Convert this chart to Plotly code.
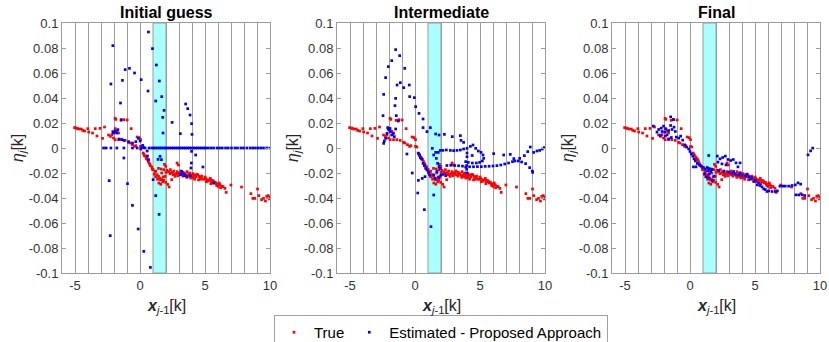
import plotly.graph_objects as go

# ---------------- data ----------------
true_pts = [
    (-5.03, 0.0163), (-4.93, 0.0160), (-4.82, 0.0157), (-4.72, 0.0152), (-4.52, 0.0152), (-4.41, 0.0141),
    (-4.26, 0.0136), (-4.01, 0.0155), (-3.95, 0.0128), (-3.65, 0.0120), (-3.31, 0.0096), (-3.44, 0.0155),
    (-3.08, 0.0157), (-2.73, 0.0168), (-2.88, 0.0077), (-2.42, 0.0104), (-2.27, 0.0093), (-2.16, 0.0107),
    (-2.04, 0.0080), (-1.91, 0.0155), (-1.86, 0.0229), (-1.92, 0.0237), (-1.78, 0.0133), (-1.65, 0.0120),
    (-1.45, 0.0221), (-1.24, 0.0227), (-0.99, 0.0224), (-0.68, 0.0155), (-1.91, 0.0067), (-1.65, 0.0067),
    (-1.40, 0.0067), (-1.14, 0.0061), (-0.88, 0.0045), (-0.78, 0.0040), (-0.58, 0.0027), (-0.42, 0.0013),
    (-0.32, 0.0019), (-0.22, 0.0088), (-0.07, 0.0083), (0.04, 0.0067), (0.04, 0.0013), (0.14, 0.0008),
    (0.24, -0.0040), (0.34, -0.0061), (0.45, -0.0072), (0.55, -0.0088), (0.65, -0.0109), (0.70, -0.0120),
    (0.80, -0.0141), (0.91, -0.0152), (1.01, -0.0173), (1.16, -0.0189), (1.31, -0.0213), (1.42, -0.0227),
    (1.52, -0.0240), (1.67, -0.0253), (1.83, -0.0259), (1.98, -0.0275), (2.13, -0.0291), (2.24, -0.0312),
    (1.42, -0.0163), (1.62, -0.0168), (1.83, -0.0173), (2.08, -0.0179), (2.34, -0.0173), (2.59, -0.0184),
    (2.85, -0.0189), (2.95, -0.0200), (3.16, -0.0184), (3.31, -0.0195), (3.46, -0.0205), (3.62, -0.0189),
    (3.77, -0.0205), (3.92, -0.0221), (4.08, -0.0205), (4.23, -0.0216), (4.38, -0.0211), (4.54, -0.0227),
    (4.69, -0.0232), (4.84, -0.0248), (5.00, -0.0232), (5.15, -0.0253), (5.25, -0.0264), (5.41, -0.0243),
    (5.56, -0.0259), (5.71, -0.0280), (5.87, -0.0285), (6.02, -0.0307), (6.17, -0.0296), (6.33, -0.0307),
    (6.53, -0.0323), (6.63, -0.0355), (6.99, -0.0296), (7.81, -0.0312), (8.53, -0.0365), (8.68, -0.0403),
    (8.83, -0.0403), (9.04, -0.0328), (9.14, -0.0381), (9.35, -0.0413), (9.50, -0.0403), (9.65, -0.0424),
    (9.75, -0.0387), (9.86, -0.0381), (9.96, -0.0408), (10.0, -0.0392), (2.85, -0.0120), (2.95, -0.0136),
    (1.88, -0.0131), (1.98, -0.0147), (1.67, -0.0200), (1.57, -0.0253), (1.78, -0.0232), (1.93, -0.0227),
    (2.70, -0.0227), (2.44, -0.0253), (2.20, -0.0190), (2.40, -0.0200), (2.50, -0.0195), (2.65, -0.0210),
    (2.80, -0.0205), (3.05, -0.0210), (3.20, -0.0215), (3.40, -0.0210), (3.55, -0.0220), (3.70, -0.0215),
    (3.85, -0.0200), (4.00, -0.0225), (4.15, -0.0220), (4.30, -0.0230), (4.45, -0.0215), (4.60, -0.0240),
    (4.75, -0.0225), (4.90, -0.0250), (5.05, -0.0245), (5.20, -0.0260), (5.35, -0.0255), (5.50, -0.0270),
    (5.65, -0.0265), (5.80, -0.0275), (5.95, -0.0290), (6.10, -0.0280), (6.40, -0.0310), (3.10, -0.0195),
    (3.30, -0.0225), (3.60, -0.0235), (3.90, -0.0240), (4.20, -0.0250), (4.50, -0.0255), (1.10, -0.0210),
    (1.20, -0.0230), (1.35, -0.0250), (1.45, -0.0280), (1.60, -0.0290), (1.75, -0.0270), (1.20, -0.0185),
    (0.95, -0.0170), (0.60, -0.0095), (0.30, -0.0050), (0.50, -0.0085), (0.75, -0.0130),
    (2.55, -0.0215), (2.90, -0.0222), (3.35, -0.0200), (3.75, -0.0228), (4.10, -0.0238), (4.65, -0.0250),
    (5.10, -0.0270), (5.45, -0.0285), (5.90, -0.0300), (6.20, -0.0318), (2.30, -0.0205), (2.00, -0.0195),
]

init_pts = [
    (0.65, 0.0928), (0.96, 0.0795), (-2.09, 0.0819), (-1.14, 0.0627), (-0.81, 0.0637), (-0.42, 0.0600),
    (-1.35, 0.0541), (0.09, 0.0547), (-2.24, 0.0512), (1.26, 0.0664), (1.49, 0.0536), (0.62, 0.0456),
    (1.67, 0.0411), (1.21, 0.0376), (1.85, 0.0301), (-1.50, 0.0360), (3.51, 0.0352), (3.67, 0.0315),
    (3.85, 0.0264), (3.97, 0.0195), (1.75, 0.0245), (-1.45, 0.0227), (2.47, 0.0205), (1.77, 0.0120),
    (3.10, 0.0115), (4.00, 0.0109), (-1.70, 0.0147), (-1.96, 0.0125), (-2.04, 0.0120), (-2.09, 0.0131),
    (-1.91, 0.0136), (-1.78, 0.0120), (-1.60, 0.0072), (-1.40, 0.0067), (-1.24, 0.0061), (-0.88, 0.0051),
    (-0.58, 0.0040), (-0.32, 0.0051), (-0.12, 0.0077), (0.01, 0.0056), (0.21, 0.0021), (0.29, 0.0003),
    (0.06, -0.0008), (0.55, -0.0024), (0.57, -0.0064), (0.65, -0.0093), (1.54, -0.0067), (1.65, -0.0093),
    (1.39, -0.0091), (-1.24, -0.0080), (-2.37, -0.0261), (-0.96, -0.0285), (1.01, -0.0253), (1.21, -0.0381),
    (1.47, -0.0531), (-0.58, -0.0459), (-0.14, -0.0648), (-2.29, -0.0701), (0.29, -0.0827), (0.80, -0.0955),
    (4.84, -0.0152), (4.28, -0.0056), (3.97, -0.0027), (3.95, -0.0120), (3.92, -0.0160), (3.21, -0.0187),
    (3.26, -0.0205), (3.41, -0.0221), (3.59, -0.0227), (3.87, -0.0221), (3.46, -0.0213), (3.10, -0.0213),
    (5.66, -0.0280),
    (-2.80, 0.0), (-2.60, 0.0), (-2.24, 0.0), (-1.78, 0.0), (-1.24, 0.0), (-0.58, 0.0), (-0.22, 0.0),
    (0.09, 0.0), (0.39, 0.0), (0.70, 0.0), (0.91, 0.0), (1.06, 0.0), (1.21, 0.0), (1.37, 0.0), (1.52, 0.0),
    (1.67, 0.0), (1.83, 0.0), (1.98, 0.0), (2.13, 0.0), (2.29, 0.0), (2.44, 0.0), (2.59, 0.0), (2.75, 0.0),
    (2.90, 0.0), (3.05, 0.0), (3.21, 0.0), (3.36, 0.0), (3.51, 0.0), (3.67, 0.0), (3.82, 0.0), (3.97, 0.0),
    (4.13, 0.0), (4.28, 0.0), (4.43, 0.0), (4.59, 0.0), (4.74, 0.0), (4.90, 0.0), (5.05, 0.0), (5.25, 0.0),
    (5.46, 0.0), (5.66, 0.0), (5.92, 0.0), (6.12, 0.0), (6.33, 0.0), (6.58, 0.0), (6.79, 0.0), (7.04, 0.0),
    (7.30, 0.0), (7.50, 0.0), (7.76, 0.0), (7.96, 0.0), (8.22, 0.0), (8.48, 0.0), (8.68, 0.0), (8.88, 0.0),
    (9.09, 0.0), (9.29, 0.0), (9.50, 0.0), (9.75, 0.0), (10.0, 0.0),
]

mid_pts = [
    (-1.49, 0.0787), (-1.18, 0.0739), (-1.79, 0.0699), (-2.05, 0.0651), (-0.79, 0.0637), (-2.26, 0.0563),
    (-1.13, 0.0523), (-1.38, 0.0504), (-0.87, 0.0483), (-2.41, 0.0429), (-0.44, 0.0504), (-1.49, 0.0397),
    (-0.41, 0.0411), (-0.05, 0.0403), (-1.54, 0.0339), (0.05, 0.0331), (-2.46, 0.0259), (-1.44, 0.0259),
    (0.31, 0.0277), (0.62, 0.0232), (-1.28, 0.0216), (-2.10, 0.0163), (-2.05, 0.0152), (-2.00, 0.0144),
    (-1.95, 0.0157), (-1.90, 0.0131), (-2.15, 0.0117), (-1.79, 0.0104), (-1.69, 0.0115), (-1.59, 0.0091),
    (-2.36, 0.0056), (-2.41, 0.0037), (-2.26, 0.0077), (-1.49, 0.0152), (0.62, 0.0163), (0.92, 0.0131),
    (1.18, 0.0163), (1.59, 0.0112), (1.85, 0.0104), (2.26, 0.0109), (2.87, 0.0091), (3.49, 0.0099),
    (3.54, 0.0061), (3.74, 0.0045), (-0.62, -0.0048), (0.26, -0.0043), (0.36, -0.0056), (0.41, -0.0077),
    (0.51, -0.0088), (0.62, -0.0123), (0.72, -0.0141), (0.82, -0.0163), (0.92, -0.0176), (1.03, -0.0195),
    (1.13, -0.0216), (-0.21, -0.0200), (0.26, -0.0259), (0.56, -0.0243), (0.77, -0.0229), (1.33, -0.0003),
    (1.44, -0.0056), (1.59, -0.0035), (1.64, -0.0083), (1.74, -0.0123), (1.85, -0.0149), (1.69, -0.0189),
    (1.95, -0.0163), (1.44, -0.0216), (1.56, -0.0243), (1.85, -0.0237), (2.00, -0.0216), (2.15, -0.0211),
    (2.36, -0.0221), (0.21, -0.0360), (0.72, -0.0493), (1.44, -0.0376), (1.23, -0.0629),
    (1.79, -0.0035), (1.95, -0.0019), (2.15, -0.0019), (2.41, -0.0016), (2.72, -0.0019), (2.97, -0.0021),
    (3.23, -0.0019), (3.49, -0.0016), (3.74, -0.0008), (4.00, -0.0003), (4.26, 0.0013), (4.46, 0.0024),
    (4.67, -0.0003), (4.87, -0.0024), (5.08, -0.0035), (5.23, -0.0056), (5.28, -0.0083), (5.18, -0.0104),
    (4.97, -0.0115), (4.72, -0.0120), (4.41, -0.0120), (4.10, -0.0115), (3.90, -0.0109),
    (4.00, -0.0040), (4.00, -0.0070), (3.98, -0.0140), (3.97, -0.0170), (4.00, -0.0200),
    (2.45, -0.0140), (2.75, -0.0138), (3.05, -0.0140), (3.35, -0.0142), (3.65, -0.0145),
    (3.90, -0.0152), (4.20, -0.0150), (4.50, -0.0150), (4.80, -0.0149), (5.10, -0.0149), (5.40, -0.0147),
    (5.70, -0.0146), (6.00, -0.0144), (6.30, -0.0141), (6.60, -0.0136), (6.90, -0.0128), (7.20, -0.0120),
    (7.50, -0.0109), (7.69, -0.0104), (8.05, -0.0083), (8.41, -0.0061), (8.67, -0.0029), (8.87, 0.0008),
    (7.60, -0.0085), (7.95, -0.0104), (8.20, -0.0112), (8.51, -0.0125), (8.82, -0.0157), (9.03, -0.0184),
    (9.05, -0.0195), (9.13, -0.0035), (9.38, -0.0024), (9.59, -0.0019), (9.79, -0.0008), (9.95, 0.0003),
    (6.05, -0.0045), (6.82, -0.0056), (7.33, -0.0051), (4.40, -0.0060),
]

final_pts = [
    (-2.82, 0.0175), (-2.41, 0.0148), (-2.21, 0.0159), (-2.15, 0.0132), (-2.03, 0.0175), (-1.95, 0.0127),
    (-1.85, 0.0153), (-1.77, 0.0105), (-1.64, 0.0140), (-1.49, 0.0249), (-1.28, 0.0228), (-1.49, 0.0180),
    (-1.38, 0.0148), (-1.23, 0.0167), (-1.13, 0.0132), (-1.05, 0.0087), (-1.44, 0.0084), (-1.64, 0.0073),
    (-0.87, 0.0079), (-0.72, 0.0095), (-0.56, 0.0063), (-2.28, 0.0100), (-2.54, 0.0127), (-1.90, 0.0095),
    (-0.41, 0.0025), (-0.26, 0.0007), (-0.10, -0.0007), (0.00, -0.0028), (0.10, -0.0047), (0.21, -0.0065),
    (0.31, -0.0087), (0.41, -0.0103), (0.56, -0.0124), (0.72, -0.0135), (0.26, -0.0151), (0.46, -0.0151),
    (0.87, -0.0145), (1.03, -0.0156), (1.18, -0.0167), (1.33, -0.0156), (1.49, -0.0167), (1.59, -0.0188),
    (1.69, -0.0172), (1.13, -0.0207), (1.28, -0.0231), (1.44, -0.0241), (1.69, -0.0260), (1.85, -0.0225),
    (1.49, -0.0207), (1.38, -0.0183), (1.44, -0.0060), (2.10, -0.0065), (2.31, -0.0087), (2.51, -0.0076),
    (2.72, -0.0065), (2.92, -0.0092), (3.13, -0.0100), (3.33, -0.0092), (3.54, -0.0119), (3.69, -0.0151),
    (3.85, -0.0119), (2.15, -0.0113), (2.46, -0.0127), (2.77, -0.0135), (2.21, -0.0180), (2.62, -0.0188),
    (2.97, -0.0193), (3.23, -0.0204), (3.49, -0.0209), (3.74, -0.0215), (4.00, -0.0220), (4.26, -0.0225),
    (4.51, -0.0231), (4.77, -0.0236), (5.03, -0.0257), (5.18, -0.0295), (5.38, -0.0300), (5.54, -0.0311),
    (5.79, -0.0332), (6.05, -0.0343), (6.31, -0.0348), (6.56, -0.0348), (6.72, -0.0343), (6.92, -0.0305),
    (7.13, -0.0305), (7.33, -0.0305), (7.59, -0.0305), (7.85, -0.0300), (8.10, -0.0295), (8.31, -0.0279),
    (8.51, -0.0289), (8.15, -0.0375), (8.36, -0.0375), (8.62, -0.0375), (8.82, -0.0380), (9.08, -0.0055),
    (9.28, -0.0023), (9.44, -0.0001), (3.36, -0.0188), (3.87, -0.0199), (4.38, -0.0209), (4.64, -0.0247),
    (4.90, -0.0268), (5.28, -0.0279), (5.67, -0.0327), (5.92, -0.0348),
]

panel_titles = ["Initial guess", "Intermediate", "Final"]
est_series = [init_pts, mid_pts, final_pts]
x_range = [-6, 10]
y_range = [-0.1, 0.1]
x_ticks = [-5, 0, 5, 10]
x_ticklabels = ["-5", "0", "5", "10"]
y_ticks = [0.1, 0.08, 0.06, 0.04, 0.02, 0, -0.02, -0.04, -0.06, -0.08, -0.1]
y_ticklabels = ["0.1", "0.08", "0.06", "0.04", "0.02", "0", "-0.02", "-0.04", "-0.06", "-0.08", "-0.1"]
band = (1, 2)

# ---------------- figure ----------------
W, H = 829, 342
FONT = "Liberation Sans, Arial, Helvetica, sans-serif"
GRID = "#9c9c9c"
domains = [(62 / W, 270 / W), (337 / W, 545 / W), (612 / W, 820 / W)]

fig = go.Figure()
annotations = []
shapes = []
for i, (pts, title) in enumerate(zip(est_series, panel_titles)):
    sfx = "" if i == 0 else str(i + 1)
    xa, ya = "x" + sfx, "y" + sfx
    fig.add_trace(go.Scatter(
        x=[p[0] for p in true_pts], y=[p[1] for p in true_pts], mode="markers",
        marker=dict(color="rgb(255,0,0)", size=2.7, symbol="square", line=dict(width=0)),
        name="True", showlegend=(i == 0), legendgroup="t", xaxis=xa, yaxis=ya, cliponaxis=True))
    fig.add_trace(go.Scatter(
        x=[p[0] for p in pts], y=[p[1] for p in pts], mode="markers",
        marker=dict(color="rgb(0,0,255)", size=2.7, symbol="square", line=dict(width=0)),
        name="Estimated - Proposed Approach", showlegend=(i == 0), legendgroup="e",
        xaxis=xa, yaxis=ya, cliponaxis=True))
    axcommon = dict(showline=True, linecolor=GRID, linewidth=1, mirror="ticks", ticks="inside",
                    ticklen=4, tickcolor=GRID, zeroline=False,
                    tickfont=dict(family=FONT, size=13, color="#333333"))
    fig.update_layout(**{
        "xaxis" + sfx: dict(domain=list(domains[i]), range=x_range, tickvals=x_ticks,
                            ticktext=x_ticklabels, showgrid=True, gridcolor=GRID, gridwidth=1,
                            minor=dict(dtick=1, tick0=0, showgrid=True, gridcolor=GRID, gridwidth=1),
                            anchor=ya, **axcommon),
        "yaxis" + sfx: dict(domain=[0, 1], range=y_range, tickvals=y_ticks, ticktext=y_ticklabels,
                            showgrid=False, anchor=xa, **axcommon),
    })
    shapes.append(dict(type="rect", xref=xa, yref=ya, x0=band[0], x1=band[1], y0=y_range[0],
                       y1=y_range[1], fillcolor="rgb(170,255,255)", line=dict(color=GRID, width=1),
                       layer="between"))
    xc = (domains[i][0] + domains[i][1]) / 2
    annotations.append(dict(text="<b>" + title + "</b>", x=xc, y=1, xref="paper", yref="paper",
                            xanchor="center", yanchor="bottom", yshift=0, showarrow=False,
                            font=dict(family=FONT, size=16, color="#000")))
    annotations.append(dict(text="<b><i>x</i></b><sub><i>j</i>-1</sub>[k]", x=xc, y=0, xref="paper",
                            yref="paper", xanchor="center", yanchor="top", yshift=-22, showarrow=False,
                            font=dict(family=FONT, size=16, color="#262626")))
    annotations.append(dict(text="<i>η</i><sub><i>j</i></sub>[k]", x=domains[i][0], y=0.5,
                            xref="paper", yref="paper", xanchor="center", yanchor="middle",
                            xshift=-44, textangle=-90, showarrow=False,
                            font=dict(family=FONT, size=16, color="#262626")))

fig.update_layout(
    width=W, height=H, margin=dict(l=0, r=0, t=23, b=69, autoexpand=False),
    paper_bgcolor="white", plot_bgcolor="white",
    annotations=annotations, shapes=shapes,
    legend=dict(orientation="h", x=441 / W, xanchor="center", xref="container",
                y=(H - 315) / H, yanchor="top", yref="container",
                bordercolor="#a0a0a0", borderwidth=1, bgcolor="white",
                font=dict(family=FONT, size=15, color="#000"), itemsizing="trace",
                itemwidth=30, tracegroupgap=0),
    showlegend=True,
)
fig.write_html("out.html")
